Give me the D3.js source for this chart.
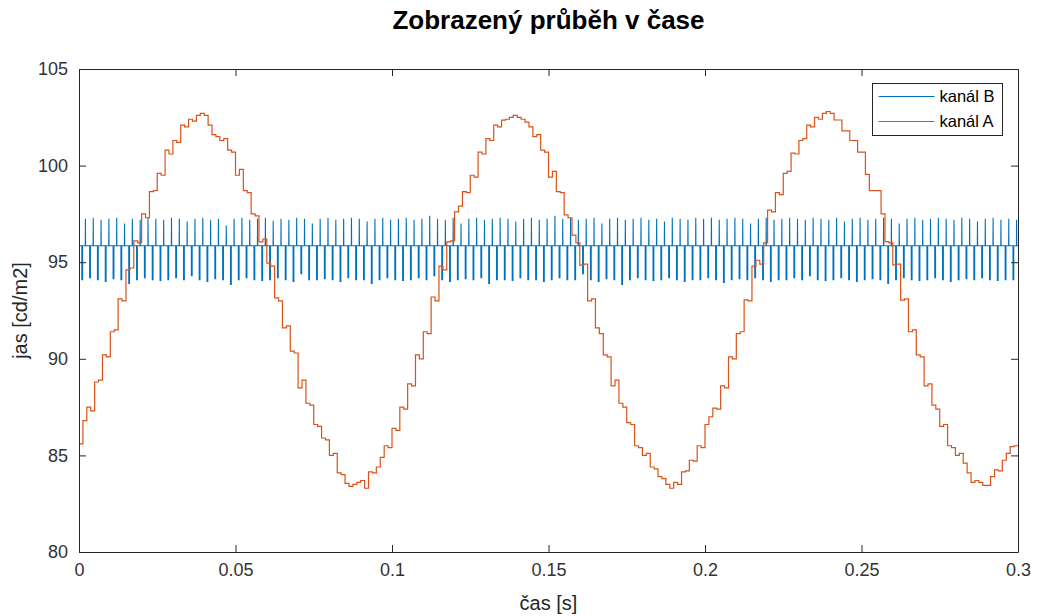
<!DOCTYPE html>
<html>
<head>
<meta charset="utf-8">
<script src="https://cdn.jsdelivr.net/npm/d3@7"></script>
<style>
  body { margin: 0; background: #fff; }
  text { font-family: "Liberation Sans", Arial, Helvetica, sans-serif; }
</style>
</head>
<body>
<svg id="chart" width="1037" height="616"></svg>
<script>
// ---- data ----------------------------------------------------------------
// kanál A: brightness sampled every 1.25 ms, held between samples
const sampleStepA = 0.00125;
const kanalA = [
  85.6, 86.8, 87.5, 87.3, 88.8, 88.9, 90.2, 90.1, 91.4, 91.5, 93.1, 93.0, 94.6, 94.7, 96.1, 96.0, 97.5, 97.3, 98.65, 98.7,
  99.6, 99.5, 100.8, 100.6, 101.3, 101.2, 102.1, 102.0, 102.4, 102.3, 102.6, 102.7, 102.6, 102.1, 101.6, 101.5, 101.3, 101.4, 100.8, 100.7,
  99.5, 99.8, 98.7, 98.6, 97.5, 97.4, 96.05, 96.2, 94.95, 94.8, 93.15, 93.0, 91.6, 91.7, 90.4, 90.3, 88.5, 88.9, 87.7, 87.6,
  86.6, 86.5, 85.9, 85.8, 85.0, 85.1, 84.1, 84.0, 83.55, 83.4, 83.5, 83.6, 83.7, 83.3, 84.15, 84.1, 84.4, 84.9, 85.5, 85.4,
  86.4, 86.3, 87.5, 87.4, 88.7, 88.6, 90.2, 90.0, 91.4, 91.3, 93.2, 93.0, 94.8, 94.6, 96.05, 96.1, 97.6, 97.9, 98.65, 98.6,
  99.5, 99.4, 100.7, 100.6, 101.4, 101.3, 102.1, 102.0, 102.35, 102.4, 102.5, 102.6, 102.5, 102.4, 102.25, 102.0, 101.5, 101.6, 100.8, 100.7,
  99.4, 99.7, 98.65, 98.6, 97.45, 97.3, 96.4, 96.0, 94.85, 94.9, 93.0, 93.1, 91.6, 91.3, 90.2, 90.1, 88.6, 88.9, 87.7, 87.5,
  86.7, 86.6, 85.5, 85.4, 85.0, 85.1, 84.4, 84.3, 83.9, 83.8, 83.5, 83.3, 83.6, 83.5, 84.15, 84.2, 84.75, 84.7, 85.5, 85.4,
  86.6, 87.0, 87.45, 87.4, 88.6, 88.5, 90.1, 90.0, 91.3, 91.4, 93.05, 93.0, 94.8, 95.1, 94.9, 96.0, 97.7, 97.6, 98.6, 98.5,
  99.6, 99.7, 100.65, 100.6, 101.3, 101.4, 102.1, 102.0, 102.5, 102.4, 102.7, 102.8, 102.7, 102.36, 102.36, 101.8, 101.8, 101.3, 101.3, 100.7,
  100.7, 99.55, 98.7, 98.7, 98.7, 97.5, 96.06, 96.0, 94.86, 94.9, 93.04, 93.1, 91.4, 91.5, 90.2, 90.1, 88.6, 88.7, 87.6, 87.4,
  86.5, 86.6, 85.5, 85.4, 85.0, 85.1, 84.6, 84.1, 83.6, 83.7, 83.6, 83.45, 83.45, 83.9, 84.25, 84.2, 84.75, 85.1, 85.45, 85.5,
  85.5
];

// kanál B: steady level with one dip and one spike in every 2.5 ms cycle
const cycleB = 0.0025;
const dipOffsetB = 0.0009;
const spikeOffsetB = 0.0020;
const kanalBStart = 97.2;
const kanalBBase = 95.85;
const kanalBUp = [
  97.25, 97.3, 97.2, 97.25, 97.3, 97.0, 97.25, 97.2, 97.3, 97.25,
  97.2, 97.3, 97.25, 97.1, 97.25, 97.3, 97.2, 97.25, 96.9, 97.25,
  97.3, 97.2, 97.25, 97.3, 97.15, 97.25, 97.2, 97.3, 97.25, 97.0,
  97.25, 97.3, 97.2, 97.25, 97.3, 97.25, 97.1, 97.25, 97.3, 97.2,
  97.25, 97.3, 97.2, 97.25, 97.4, 97.25, 97.2, 97.3, 97.0, 97.25,
  97.3, 97.2, 97.25, 97.3, 97.25, 97.1, 97.25, 97.3, 97.2, 97.25,
  97.4, 97.25, 97.3, 97.2, 97.25, 97.3, 97.0, 97.25, 97.3, 97.2,
  97.25, 97.3, 97.2, 97.25, 97.1, 97.3, 97.25, 97.2, 97.3, 97.25,
  97.3, 97.2, 97.25, 97.3, 97.25, 97.0, 97.25, 97.3, 97.2, 97.25,
  97.3, 97.25, 97.2, 97.3, 97.25, 97.2, 97.3, 97.1, 97.25, 97.3,
  97.2, 97.25, 97.3, 97.25, 97.0, 97.25, 97.3, 97.2, 97.25, 97.3,
  97.25, 97.2, 97.3, 97.25, 97.1, 97.25, 97.3, 97.2, 97.25, 97.2
];
const kanalBDown = [
  94.1, 94.2, 94.1, 94.0, 94.15, 94.1, 93.9, 94.1, 94.2, 94.1,
  94.05, 94.1, 94.2, 94.1, 94.3, 94.1, 94.0, 94.15, 94.1, 93.85,
  94.1, 94.2, 94.1, 94.05, 94.1, 94.2, 94.1, 94.0, 94.4, 94.1,
  94.1, 94.15, 94.1, 94.0, 94.2, 94.1, 94.1, 93.9, 94.1, 94.2,
  94.1, 94.05, 94.1, 94.2, 94.1, 94.3, 94.1, 94.0, 94.1, 94.15,
  94.1, 94.2, 93.9, 94.1, 94.1, 94.05, 94.2, 94.1, 94.1, 94.0,
  94.1, 94.2, 94.1, 94.1, 94.4, 94.1, 94.0, 94.15, 94.1, 93.85,
  94.1, 94.2, 94.1, 94.05, 94.1, 94.2, 94.1, 94.0, 94.1, 94.1,
  94.2, 94.1, 93.95, 94.1, 94.15, 94.1, 94.2, 94.1, 94.0, 94.1,
  94.1, 94.2, 94.1, 94.3, 94.1, 94.05, 94.1, 94.2, 94.1, 94.0,
  94.1, 94.15, 94.1, 93.9, 94.1, 94.2, 94.1, 94.05, 94.1, 94.2,
  94.1, 94.0, 94.1, 94.15, 94.1, 94.2, 94.1, 94.05, 94.1, 94.1
];

const xTicks = [0, 0.05, 0.1, 0.15, 0.2, 0.25, 0.3];
const xTickLabels = ["0", "0.05", "0.1", "0.15", "0.2", "0.25", "0.3"];
const yTicks = [80, 85, 90, 95, 100, 105];
const yTickLabels = ["80", "85", "90", "95", "100", "105"];
const seriesNames = ["kanál B", "kanál A"];
const seriesColors = ["#0072BD", "#D95319"];

// ---- layout ----------------------------------------------------------------
const plot = { left: 79, right: 1018, top: 69, bottom: 552 };
const axisColor = "#262626";

const svg = d3.select("#chart");
svg.append("rect").attr("width", 1037).attr("height", 616).attr("fill", "#fff");

const x = d3.scaleLinear().domain([0, 0.3]).range([plot.left, plot.right]);
const y = d3.scaleLinear().domain([80, 105]).range([plot.bottom, plot.top]);

svg.append("defs").append("clipPath").attr("id", "plotClip")
  .append("rect")
  .attr("x", plot.left).attr("y", plot.top)
  .attr("width", plot.right - plot.left + 1)
  .attr("height", plot.bottom - plot.top + 1);

// ---- series ----------------------------------------------------------------
// kanál B path: start value, then a dip and a spike in every cycle
const pointsB = [[0, kanalBStart], [0.00008, kanalBBase]];
kanalBUp.forEach((up, k) => {
  const t0 = k * cycleB;
  const td = t0 + dipOffsetB;
  const tu = t0 + spikeOffsetB;
  pointsB.push([td, kanalBBase], [td, kanalBDown[k]], [td + 0.00025, kanalBDown[k]], [td + 0.00025, kanalBBase]);
  pointsB.push([tu, kanalBBase], [tu + 0.00005, up], [tu + 0.0001, kanalBBase]);
});
pointsB.push([0.3, kanalBBase]);

const lineB = d3.line().x(d => x(d[0])).y(d => y(d[1]));
const lineA = d3.line()
  .x((d, i) => x(i * sampleStepA))
  .y(d => y(d))
  .curve(d3.curveStepAfter);

const series = svg.append("g").attr("clip-path", "url(#plotClip)");
series.append("path")
  .attr("d", lineB(pointsB))
  .attr("fill", "none")
  .attr("stroke", seriesColors[0])
  .attr("stroke-width", 1.1)
  .attr("stroke-linejoin", "miter");
series.append("path")
  .attr("d", lineA(kanalA))
  .attr("fill", "none")
  .attr("stroke", seriesColors[1])
  .attr("stroke-width", 1.2);

// ---- axes (box with inward ticks on all sides) -----------------------------
function styleAxis(g, fontSize) {
  g.selectAll(".domain").attr("stroke", axisColor);
  g.selectAll(".tick line").attr("stroke", axisColor);
  g.selectAll(".tick text")
    .attr("fill", "#333")
    .attr("font-size", fontSize)
    .attr("font-family", '"Liberation Sans", Arial, sans-serif');
}

const gxb = svg.append("g").attr("transform", `translate(0,${plot.bottom})`)
  .call(d3.axisBottom(x).tickValues(xTicks)
    .tickFormat((d, i) => xTickLabels[i])
    .tickSizeInner(-7).tickSizeOuter(0).tickPadding(11));
styleAxis(gxb, 18);

const gxt = svg.append("g").attr("transform", `translate(0,${plot.top})`)
  .call(d3.axisTop(x).tickValues(xTicks).tickFormat(() => "")
    .tickSizeInner(-7).tickSizeOuter(0));
styleAxis(gxt, 18);

const gyl = svg.append("g").attr("transform", `translate(${plot.left},0)`)
  .call(d3.axisLeft(y).tickValues(yTicks)
    .tickFormat((d, i) => yTickLabels[i])
    .tickSizeInner(-7).tickSizeOuter(0).tickPadding(11));
styleAxis(gyl, 18);

const gyr = svg.append("g").attr("transform", `translate(${plot.right},0)`)
  .call(d3.axisRight(y).tickValues(yTicks).tickFormat(() => "")
    .tickSizeInner(-7).tickSizeOuter(0));
styleAxis(gyr, 18);

// ---- titles ----------------------------------------------------------------
svg.append("text")
  .attr("x", (plot.left + plot.right) / 2).attr("y", 29)
  .attr("text-anchor", "middle")
  .attr("font-size", 26).attr("font-weight", "bold")
  .attr("fill", "#000")
  .text("Zobrazený průběh v čase");

svg.append("text")
  .attr("x", (plot.left + plot.right) / 2).attr("y", 610)
  .attr("text-anchor", "middle")
  .attr("font-size", 20)
  .attr("fill", "#262626")
  .text("čas [s]");

svg.append("text")
  .attr("transform", `translate(27,${(plot.top + plot.bottom) / 2}) rotate(-90)`)
  .attr("text-anchor", "middle")
  .attr("font-size", 20)
  .attr("fill", "#262626")
  .text("jas [cd/m2]");

// ---- legend ----------------------------------------------------------------
const legend = svg.append("g").attr("transform", "translate(872.5,83.5)");
legend.append("rect")
  .attr("width", 130).attr("height", 52)
  .attr("fill", "#fff").attr("stroke", axisColor).attr("stroke-width", 1);
seriesNames.forEach((name, i) => {
  const ly = 13 + i * 25;
  legend.append("line")
    .attr("x1", 6).attr("x2", 62).attr("y1", ly).attr("y2", ly)
    .attr("stroke", seriesColors[i]).attr("stroke-width", 1.2);
  legend.append("text")
    .attr("x", 67).attr("y", ly + 5.5)
    .attr("font-size", 16.5).attr("fill", "#000")
    .text(name);
});
</script>
</body>
</html>
